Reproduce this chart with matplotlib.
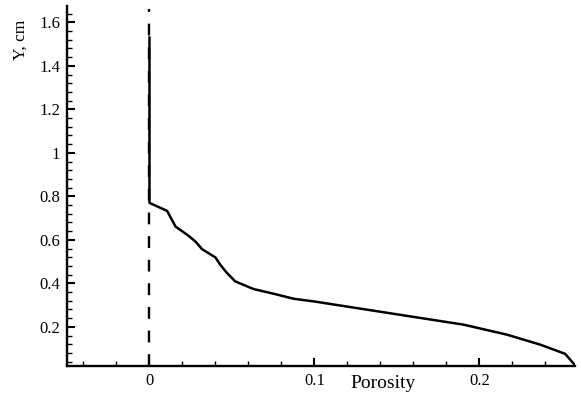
import matplotlib
matplotlib.use("Agg")
import matplotlib.pyplot as plt
from matplotlib.ticker import MultipleLocator

porosity = [0.0, 0.0, 0.0107, 0.0158, 0.0238, 0.0279, 0.0319, 0.040, 0.043, 0.0467,
            0.052, 0.063, 0.0754, 0.0875, 0.0996, 0.1905, 0.2168, 0.237, 0.252, 0.258]
y_cm = [1.53, 0.77, 0.733, 0.661, 0.618, 0.592, 0.557, 0.519, 0.485, 0.45,
        0.409, 0.374, 0.352, 0.329, 0.317, 0.21, 0.164, 0.118, 0.076, 0.024]
dash_x = [0.0, 0.0]
dash_y = [0.02, 1.66]
xticks = [0, 0.1, 0.2]
xticklabels = ["0", "0.1", "0.2"]
yticks = [0.2, 0.4, 0.6, 0.8, 1.0, 1.2, 1.4, 1.6]
yticklabels = ["0.2", "0.4", "0.6", "0.8", "1", "1.2", "1.4", "1.6"]

plt.rcParams['font.family'] = ['Liberation Serif', 'DejaVu Serif']

fig = plt.figure(figsize=(5.81, 3.97), dpi=100)
ax = fig.add_axes([67/581, 1-366/397, (575-67)/581, (366-6)/397])

ax.plot(dash_x, dash_y, color='black', lw=1.7, dashes=(5, 5))
ax.plot(porosity, y_cm, color='black', lw=1.8)

ax.set_xlim(-0.05, 0.258)
ax.set_ylim(0.02, 1.675)
ax.set_xticks(xticks)
ax.set_xticklabels(xticklabels)
ax.set_yticks(yticks)
ax.set_yticklabels(yticklabels)
ax.xaxis.set_minor_locator(MultipleLocator(0.02))
ax.yaxis.set_minor_locator(MultipleLocator(0.04))

for s in ['top', 'right']:
    ax.spines[s].set_visible(False)
for s in ['left', 'bottom']:
    ax.spines[s].set_linewidth(1.7)

ax.tick_params(which='major', direction='in', length=6, width=1.5, labelsize=12, pad=5, colors='black')
ax.tick_params(which='minor', direction='in', length=3.5, width=1.0)

fig.text(383/581, 1-384/397, "Porosity", ha='center', va='center', fontsize=14)
fig.text(21/581, 1-40/397, "Y, cm", ha='center', va='center', rotation=90, fontsize=12.5)

fig.savefig("out.png", dpi=100)
